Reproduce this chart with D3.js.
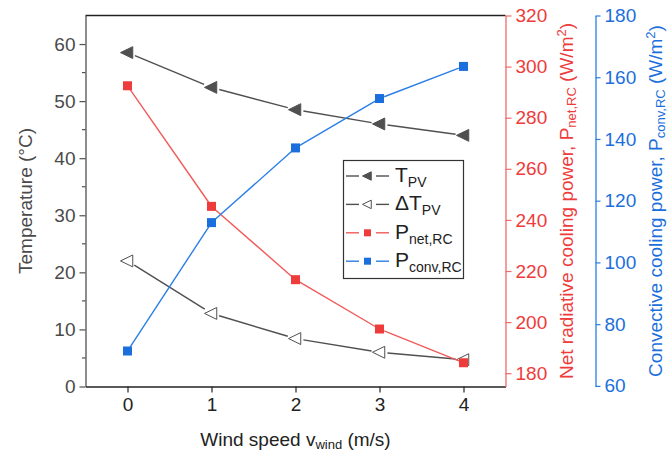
<!DOCTYPE html>
<html>
<head>
<meta charset="utf-8">
<script src="https://cdn.jsdelivr.net/npm/d3@7"></script>
<style>
  html, body { margin: 0; padding: 0; background: #fff; }
  svg { display: block; font-family: "Liberation Sans", Arial, sans-serif; }
</style>
</head>
<body>
<svg id="chart" width="667" height="459"></svg>
<script>
// Wind speed (m/s)
const windSpeed = [0, 1, 2, 3, 4];
// PV temperature and temperature reduction (°C)
const tPV = [58.5, 52.4, 48.5, 46.0, 44.0];
const deltaTPV = [22.0, 12.8, 8.4, 6.0, 4.7];
// Net radiative cooling power (W/m²)
const pNetRC = [292.5, 245.3, 216.6, 197.3, 184.1];
// Convective cooling power (W/m²)
const pConvRC = [71.3, 112.9, 137.1, 153.1, 163.5];

const xTicks = [0, 1, 2, 3, 4];
const leftTicks = [0, 10, 20, 30, 40, 50, 60];
const leftMinor = [5, 15, 25, 35, 45, 55];
const redTicks = [180, 200, 220, 240, 260, 280, 300, 320];
const blueTicks = [60, 80, 100, 120, 140, 160, 180];

const svg = d3.select("#chart");
const L = 85.5, R = 505.5, T = 15.5, B = 386.5;
const blueX = 595.5;

const gray = "#505050";
const red = "#ee3b3b";
const redLine = "#f25a5a";
const redAxis = "#f26a6a";
const blue = "#1b6fdc";
const blueLine = "#2a7fe6";
const fs = 19;
const intFmt = d3.format("d");

const x = d3.scaleLinear().domain([-0.5, 4.5]).range([L, R]);
const yL = d3.scaleLinear().domain([0, 65]).range([B, T]);
const yR = d3.scaleLinear().domain([174.8, 320]).range([B, T]);
const yB = d3.scaleLinear().domain([59.8, 180]).range([B, T]);

// top frame line
svg.append("line").attr("x1", L).attr("x2", R).attr("y1", T).attr("y2", T)
  .attr("stroke", "#222").attr("stroke-width", 1.3);

// left axis with minor ticks at the halves
const gL = svg.append("g").attr("transform", `translate(${L},0)`)
  .call(d3.axisLeft(yL).tickValues(leftTicks).tickFormat(intFmt).tickSize(6).tickPadding(4).tickSizeOuter(0));
gL.append("g").selectAll("line").data(leftMinor).join("line")
  .attr("x1", 0).attr("x2", -3.5).attr("y1", d => yL(d)).attr("y2", d => yL(d))
  .attr("stroke", gray).attr("stroke-width", 1.2);
gL.select(".domain").attr("stroke", gray).attr("stroke-width", 1.3);
gL.selectAll(".tick line").attr("stroke", gray).attr("stroke-width", 1.2);
gL.selectAll(".tick text").attr("fill", "#4a4a4a").style("font-size", fs + "px");

// bottom axis
const gB = svg.append("g").attr("transform", `translate(0,${B})`)
  .call(d3.axisBottom(x).tickValues(xTicks).tickFormat(intFmt).tickSize(6).tickPadding(5).tickSizeOuter(0));
gB.select(".domain").attr("stroke", "#222").attr("stroke-width", 1.3);
gB.selectAll(".tick line").attr("stroke", "#222").attr("stroke-width", 1.2);
gB.selectAll(".tick text").attr("fill", "#222").style("font-size", fs + "px");

// red right axis
const gR = svg.append("g").attr("transform", `translate(${R},0)`)
  .call(d3.axisRight(yR).tickValues(redTicks).tickFormat(intFmt).tickSize(6).tickPadding(4).tickSizeOuter(0));
gR.select(".domain").attr("stroke", redAxis).attr("stroke-width", 1.3);
gR.selectAll(".tick line").attr("stroke", redAxis).attr("stroke-width", 1.2);
gR.selectAll(".tick text").attr("fill", red).style("font-size", fs + "px");

// blue right axis
const gBl = svg.append("g").attr("transform", `translate(${blueX},0)`)
  .call(d3.axisRight(yB).tickValues(blueTicks).tickFormat(intFmt).tickSize(5).tickPadding(4).tickSizeOuter(0));
gBl.select(".domain").attr("stroke", blueLine).attr("stroke-width", 1.3);
gBl.selectAll(".tick line").attr("stroke", blueLine).attr("stroke-width", 1.2);
gBl.selectAll(".tick text").attr("fill", blue).style("font-size", fs + "px");

// axis titles
const subFs = 13;
function addTitle(g, parts, color) {
  const t = g.append("text").attr("fill", color).style("font-size", fs + "px")
    .attr("text-anchor", "middle");
  parts.forEach(p => {
    const s = t.append("tspan").text(p.t);
    if (p.sub) s.style("font-size", subFs + "px").attr("baseline-shift", "-22%");
    if (p.sup) s.style("font-size", subFs + "px").attr("baseline-shift", "55%");
  });
  return t;
}
addTitle(svg.append("g").attr("transform", `translate(32,${(T + B) / 2}) rotate(-90)`),
  [{ t: "Temperature (°C)" }], "#4a4a4a");
addTitle(svg.append("g").attr("transform", `translate(${(L + R) / 2},446)`),
  [{ t: "Wind speed v" }, { t: "wind", sub: true }, { t: " (m/s)" }], "#222");
addTitle(svg.append("g").attr("transform", `translate(573,${(T + B) / 2}) rotate(-90)`),
  [{ t: "Net radiative cooling power, P" }, { t: "net,RC", sub: true }, { t: " (W/m" }, { t: "2", sup: true }, { t: ")" }], red);
addTitle(svg.append("g").attr("transform", `translate(662,${(T + B) / 2}) rotate(-90)`),
  [{ t: "Convective cooling power, P" }, { t: "conv,RC", sub: true }, { t: " (W/m" }, { t: "2", sup: true }, { t: ")" }], blue);

// series: connecting segments leave a small gap around each marker
function gappedSegments(g, pts, color, gap) {
  for (let i = 0; i < pts.length - 1; i++) {
    const [x1, y1] = pts[i], [x2, y2] = pts[i + 1];
    const dx = x2 - x1, dy = y2 - y1, len = Math.hypot(dx, dy);
    const ux = dx / len, uy = dy / len;
    g.append("line")
      .attr("x1", x1 + ux * gap).attr("y1", y1 + uy * gap)
      .attr("x2", x2 - ux * gap).attr("y2", y2 - uy * gap)
      .attr("stroke", color).attr("stroke-width", 1.4);
  }
}
const triPath = s => `M${-s},0L${s * 0.75},${-s * 0.85}L${s * 0.75},${s * 0.85}Z`;

const series = [
  { vals: tPV, y: yL, line: gray, marker: "tri", fill: gray, stroke: gray, gap: 8 },
  { vals: deltaTPV, y: yL, line: gray, marker: "tri", fill: "#fff", stroke: gray, gap: 8 },
  { vals: pNetRC, y: yR, line: redLine, marker: "sq", fill: red, stroke: red, gap: 5 },
  { vals: pConvRC, y: yB, line: blueLine, marker: "sq", fill: blue, stroke: blue, gap: 5 }
];
const plot = svg.append("g");
series.forEach(s => {
  const pts = windSpeed.map((w, i) => [x(w), s.y(s.vals[i])]);
  const g = plot.append("g");
  gappedSegments(g, pts, s.line, s.gap);
  pts.forEach(([px, py]) => {
    if (s.marker === "tri") {
      g.append("path").attr("d", triPath(7)).attr("transform", `translate(${px},${py})`)
        .attr("fill", s.fill).attr("stroke", s.stroke).attr("stroke-width", 1);
    } else {
      g.append("rect").attr("x", px - 4.5).attr("y", py - 4.5).attr("width", 9).attr("height", 9)
        .attr("fill", s.fill);
    }
  });
});

// legend
const lg = svg.append("g");
lg.append("rect").attr("x", 343.5).attr("y", 160.5).attr("width", 120).attr("height", 118)
  .attr("fill", "#fff").attr("stroke", "#333").attr("stroke-width", 1.2);
const legendItems = [
  { main: "T", sub: "PV", s: series[0] },
  { main: "ΔT", sub: "PV", s: series[1] },
  { main: "P", sub: "net,RC", s: series[2] },
  { main: "P", sub: "conv,RC", s: series[3] }
];
legendItems.forEach((d, i) => {
  const yy = 176 + i * 28.4;
  const s = d.s;
  lg.append("line").attr("x1", 346).attr("x2", 359).attr("y1", yy).attr("y2", yy)
    .attr("stroke", s.line).attr("stroke-width", 1.4);
  lg.append("line").attr("x1", 376).attr("x2", 389).attr("y1", yy).attr("y2", yy)
    .attr("stroke", s.line).attr("stroke-width", 1.4);
  if (s.marker === "tri") {
    lg.append("path").attr("d", triPath(5)).attr("transform", `translate(367.5,${yy})`)
      .attr("fill", s.fill).attr("stroke", s.stroke).attr("stroke-width", 1);
  } else {
    lg.append("rect").attr("x", 364).attr("y", yy - 3.5).attr("width", 7).attr("height", 7)
      .attr("fill", s.fill);
  }
  const t = lg.append("text").attr("x", 395).attr("y", yy + 6).attr("fill", "#222")
    .style("font-size", "21px");
  t.append("tspan").text(d.main);
  t.append("tspan").text(d.sub).style("font-size", "14px").attr("dy", 5);
});
</script>
</body>
</html>
